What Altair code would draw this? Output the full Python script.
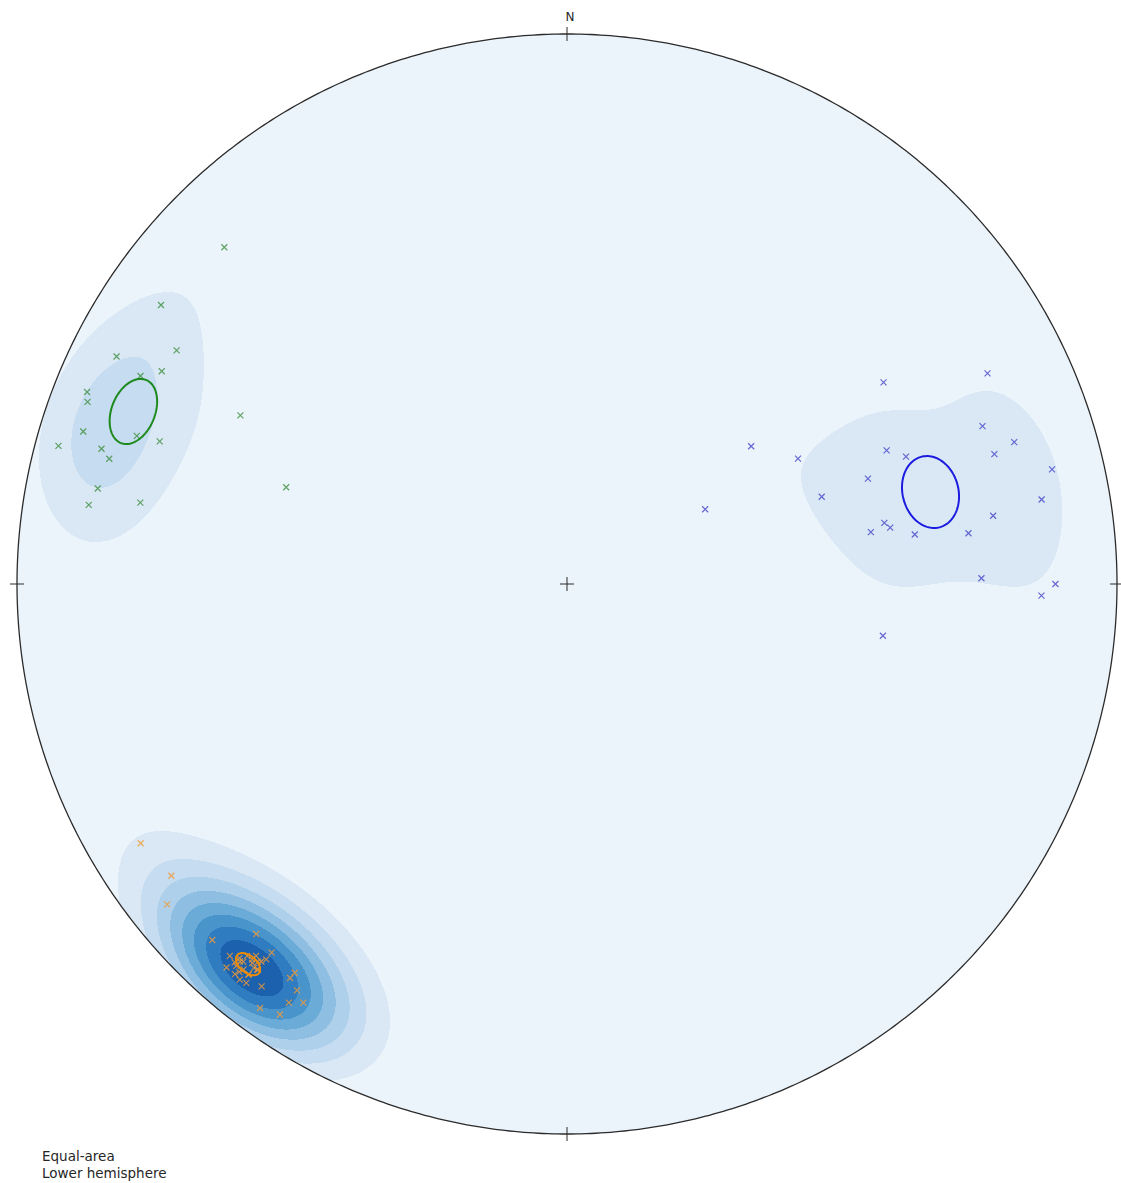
import numpy as np
import pandas as pd
import altair as alt

# ---------------------------------------------------------------
# Lineation measurements, trend / plunge in degrees, three sets
# ---------------------------------------------------------------
set1_trend = [314.5, 304.5, 296.8, 300.9, 297.7, 296.0, 291.8, 290.8, 287.5, 285.2,
              286.2, 285.3, 289.3, 289.0, 297.3, 281.5, 279.4, 280.8, 289.0]
set1_plunge = [13.7, 11.4, 9.1, 18.4, 17.9, 14.8, 6.7, 7.5, 8.6, 4.7,
               12.9, 14.8, 22.6, 18.4, 33.6, 14.0, 12.9, 22.1, 45.1]

set2_trend = [57.5, 63.4, 53.2, 61.5, 69.2, 72.4, 67.3, 69.4, 73.1, 76.7,
              70.7, 71.1, 61.6, 79.9, 80.9, 79.1, 80.1, 80.3, 81.9, 82.8,
              89.2, 90.0, 91.4, 99.3]
set2_plunge = [32.3, 15.6, 55.6, 50.5, 20.3, 15.8, 37.1, 34.5, 19.9, 10.3,
               41.6, 49.5, 66.7, 13.4, 22.6, 40.9, 40.1, 43.3, 36.3, 27.3,
               25.6, 12.2, 14.8, 41.4]

set3_trend = [238.7, 233.6, 231.3, 224.9, 221.6, 222.2, 221.6, 218.7, 218.7, 219.6,
              217.2, 215.1, 215.0, 213.6, 213.6, 212.2, 215.9, 213.7, 218.8, 220.4,
              218.8, 220.9, 220.0, 220.0, 219.2, 220.9, 219.3, 219.2,
              221.2, 220.7, 219.9, 219.0, 218.7, 219.2, 220.2, 221.3, 220.6, 219.7]
set3_plunge = [10.2, 11.6, 7.6, 9.5, 16.0, 9.6, 7.5, 15.2, 13.6, 7.4,
               9.0, 13.5, 14.8, 12.3, 9.5, 11.0, 5.4, 6.6, 7.7, 7.6,
               11.0, 10.1, 11.9, 9.4, 10.9, 9.0, 12.3, 9.2,
               10.5, 11.8, 12.9, 12.7, 11.1, 9.3, 8.5, 9.3, 10.5, 11.4]

# Mean direction and confidence cone of each set
cone_set = ["set1", "set2", "set3"]
cone_trend = [291.7, 75.8, 220.0]
cone_plunge = [16.2, 32.3, 10.7]
cone_angle = [4.0, 4.7, 1.6]

set_names = ["set1", "set2", "set3"]
marker_colors = ["#3d8f3d", "#4545c8", "#f39a35"]
cone_colors = ["#1e8a1e", "#1c1ce0", "#f08c00"]

# Blue colour ramp of the density bands (lowest band first)
band_colors = ["#ecf4fb", "#dae8f5", "#c6dcf0", "#aed0ea", "#8ebfe2",
               "#6aabd8", "#4a94cc", "#2f7cc0", "#1b61ae"]


def to_vec(trend, plunge):
    t = np.radians(np.asarray(trend, float))
    p = np.radians(np.asarray(plunge, float))
    return np.stack([np.cos(p) * np.sin(t), np.cos(p) * np.cos(t), np.sin(p)], axis=-1)


def project(v):
    """Equal-area (Lambert) projection of lower-hemisphere unit vectors."""
    v = np.array(v, float)
    v[v[:, 2] < 0] *= -1
    theta = np.arccos(np.clip(v[:, 2], -1, 1))
    r = np.sqrt(2) * np.sin(theta / 2)
    h = np.hypot(v[:, 0], v[:, 1])
    h[h == 0] = 1
    return r * v[:, 0] / h, r * v[:, 1] / h


# ---------------- point table ----------------
pt_frames = []
for name, tr, pl in zip(set_names, [set1_trend, set2_trend, set3_trend],
                        [set1_plunge, set2_plunge, set3_plunge]):
    px, py = project(to_vec(tr, pl))
    pt_frames.append(pd.DataFrame({"x": px, "y": py, "set": name}))
points = pd.concat(pt_frames, ignore_index=True)

# ---------------- density (exponential Kamb) ----------------
all_vec = np.concatenate([to_vec(set1_trend, set1_plunge),
                          to_vec(set2_trend, set2_plunge),
                          to_vec(set3_trend, set3_plunge)])
n = float(len(all_vec))
sigma = 1.8
f = 2.0 * (1.0 + n / sigma ** 2)
units = np.sqrt(n * (f / 2.0 - 1.0) / f ** 2)

N = 1100
edges = np.linspace(-1, 1, N + 1)
xc = (edges[:-1] + edges[1:]) / 2
row_top = 1 - np.arange(N) * 2.0 / N
row_bot = row_top - 2.0 / N
row_c = (row_top + row_bot) / 2

dens = np.zeros((N, N))
chunk = 50
for i0 in range(0, N, chunk):
    yy, xx = np.meshgrid(row_c[i0:i0 + chunk], xc, indexing="ij")
    r = np.hypot(xx, yy)
    theta = 2 * np.arcsin(np.clip(r / np.sqrt(2), 0, 1))
    rr = np.where(r == 0, 1, r)
    g = np.stack([np.sin(theta) * xx / rr, np.sin(theta) * yy / rr, np.cos(theta)], axis=-1)
    cosd = g.reshape(-1, 3) @ all_vec.T
    d = (np.exp(f * (cosd - 1)).sum(axis=1) - 0.5) / units
    dens[i0:i0 + chunk] = np.clip(d, 0, None).reshape(yy.shape)

levels = np.linspace(0, dens.max(), len(band_colors) + 1)

recs = []
for i in range(N):
    half = np.sqrt(max(1 - row_c[i] ** 2, 0))
    inside = np.abs(xc) <= half
    recs.append((-half, half, row_top[i], row_bot[i], 0))
    for k in range(1, len(band_colors)):
        m = (dens[i] >= levels[k]) & inside
        if not m.any():
            continue
        dd = np.diff(np.concatenate([[0], m.astype(int), [0]]))
        for s, e in zip(np.where(dd == 1)[0], np.where(dd == -1)[0]):
            recs.append((max(edges[s], -half), min(edges[e], half), row_top[i], row_bot[i], k))
bands = pd.DataFrame(recs, columns=["x", "x2", "y", "y2", "band"]).round(5)
bands = bands.sort_values("band", kind="stable").reset_index(drop=True)

# ---------------- confidence cones ----------------
cone_rows = []
for name, tr, pl, ang in zip(cone_set, cone_trend, cone_plunge, cone_angle):
    a = to_vec([tr], [pl])[0]
    ref = np.array([0, 0, 1.0]) if abs(a[2]) < 0.9 else np.array([1.0, 0, 0])
    u = np.cross(a, ref)
    u /= np.linalg.norm(u)
    w = np.cross(a, u)
    phi = np.linspace(0, 2 * np.pi, 121)
    al = np.radians(ang)
    ring = np.cos(al) * a + np.sin(al) * (np.cos(phi)[:, None] * u + np.sin(phi)[:, None] * w)
    cx, cy = project(ring)
    for j, (a1, b1) in enumerate(zip(cx, cy)):
        cone_rows.append({"x": a1, "y": b1, "set": name, "i": j})
cones = pd.DataFrame(cone_rows)

# ---------------- primitive circle, ticks ----------------
ang = np.linspace(0, 2 * np.pi, 721)
prim = pd.DataFrame({"x": np.sin(ang), "y": np.cos(ang), "i": np.arange(len(ang))})

tick_len = 7 / 550
ticks = pd.DataFrame({
    "x": [0, 0, -1 - tick_len, 1 - tick_len, -tick_len, 0],
    "x2": [0, 0, -1 + tick_len, 1 + tick_len, tick_len, 0],
    "y": [1 - tick_len, -1 - tick_len, 0, 0, 0, -tick_len],
    "y2": [1 + tick_len, -1 + tick_len, 0, 0, 0, tick_len],
})

dom = alt.Scale(domain=[-1, 1])
X = lambda f="x": alt.X(f"{f}:Q", scale=dom, axis=None)
Y = lambda f="y": alt.Y(f"{f}:Q", scale=dom, axis=None)

band_layer = alt.Chart(bands).mark_rect(strokeWidth=0).encode(
    x=X(), x2="x2", y=Y(), y2="y2",
    color=alt.Color("band:O", scale=alt.Scale(domain=list(range(len(band_colors))),
                                              range=band_colors), legend=None),
)

prim_layer = alt.Chart(prim).mark_line(color="#2b2b2b", strokeWidth=1.3).encode(
    x=X(), y=Y(), order="i:Q")

tick_layer = alt.Chart(ticks).mark_rule(color="#2b2b2b", strokeWidth=1).encode(
    x=X(), x2="x2", y=Y(), y2="y2")

point_layer = alt.Chart(points).mark_point(
    shape="M -1 -1 L 1 1 M -1 1 L 1 -1", filled=False, size=36, strokeWidth=1.2, opacity=0.8
).encode(
    x=X(), y=Y(),
    color=alt.Color("set:N", scale=alt.Scale(domain=set_names, range=marker_colors), legend=None),
)

cone_layer = alt.Chart(cones).mark_line(strokeWidth=2).encode(
    x=X(), y=Y(), order="i:Q", detail="set:N",
    color=alt.Color("set:N", scale=alt.Scale(domain=set_names, range=cone_colors), legend=None),
)

text_style = dict(font="DejaVu Sans", color="#262626", baseline="middle")

north = alt.Chart(pd.DataFrame({"t": ["N"]})).mark_text(
    fontSize=12, align="center", **text_style
).encode(text="t:N", x=alt.value(553), y=alt.value(-17))

caption1 = alt.Chart(pd.DataFrame({"t": ["Equal-area"]})).mark_text(
    fontSize=13.5, align="left", **text_style
).encode(text="t:N", x=alt.value(25), y=alt.value(1123))

caption2 = alt.Chart(pd.DataFrame({"t": ["Lower hemisphere"]})).mark_text(
    fontSize=13.5, align="left", **text_style
).encode(text="t:N", x=alt.value(25), y=alt.value(1140))

chart = alt.layer(
    band_layer, prim_layer, tick_layer, point_layer, cone_layer, north, caption1, caption2
).resolve_scale(color="independent").properties(
    width=1100, height=1100,
    padding={"left": 17, "top": 34, "right": 4, "bottom": 49},
    autosize=alt.AutoSizeParams(type="none"),
    background="white",
).configure_view(stroke=None)

chart.save("out.html", embed_options={"renderer": "svg", "actions": False})
